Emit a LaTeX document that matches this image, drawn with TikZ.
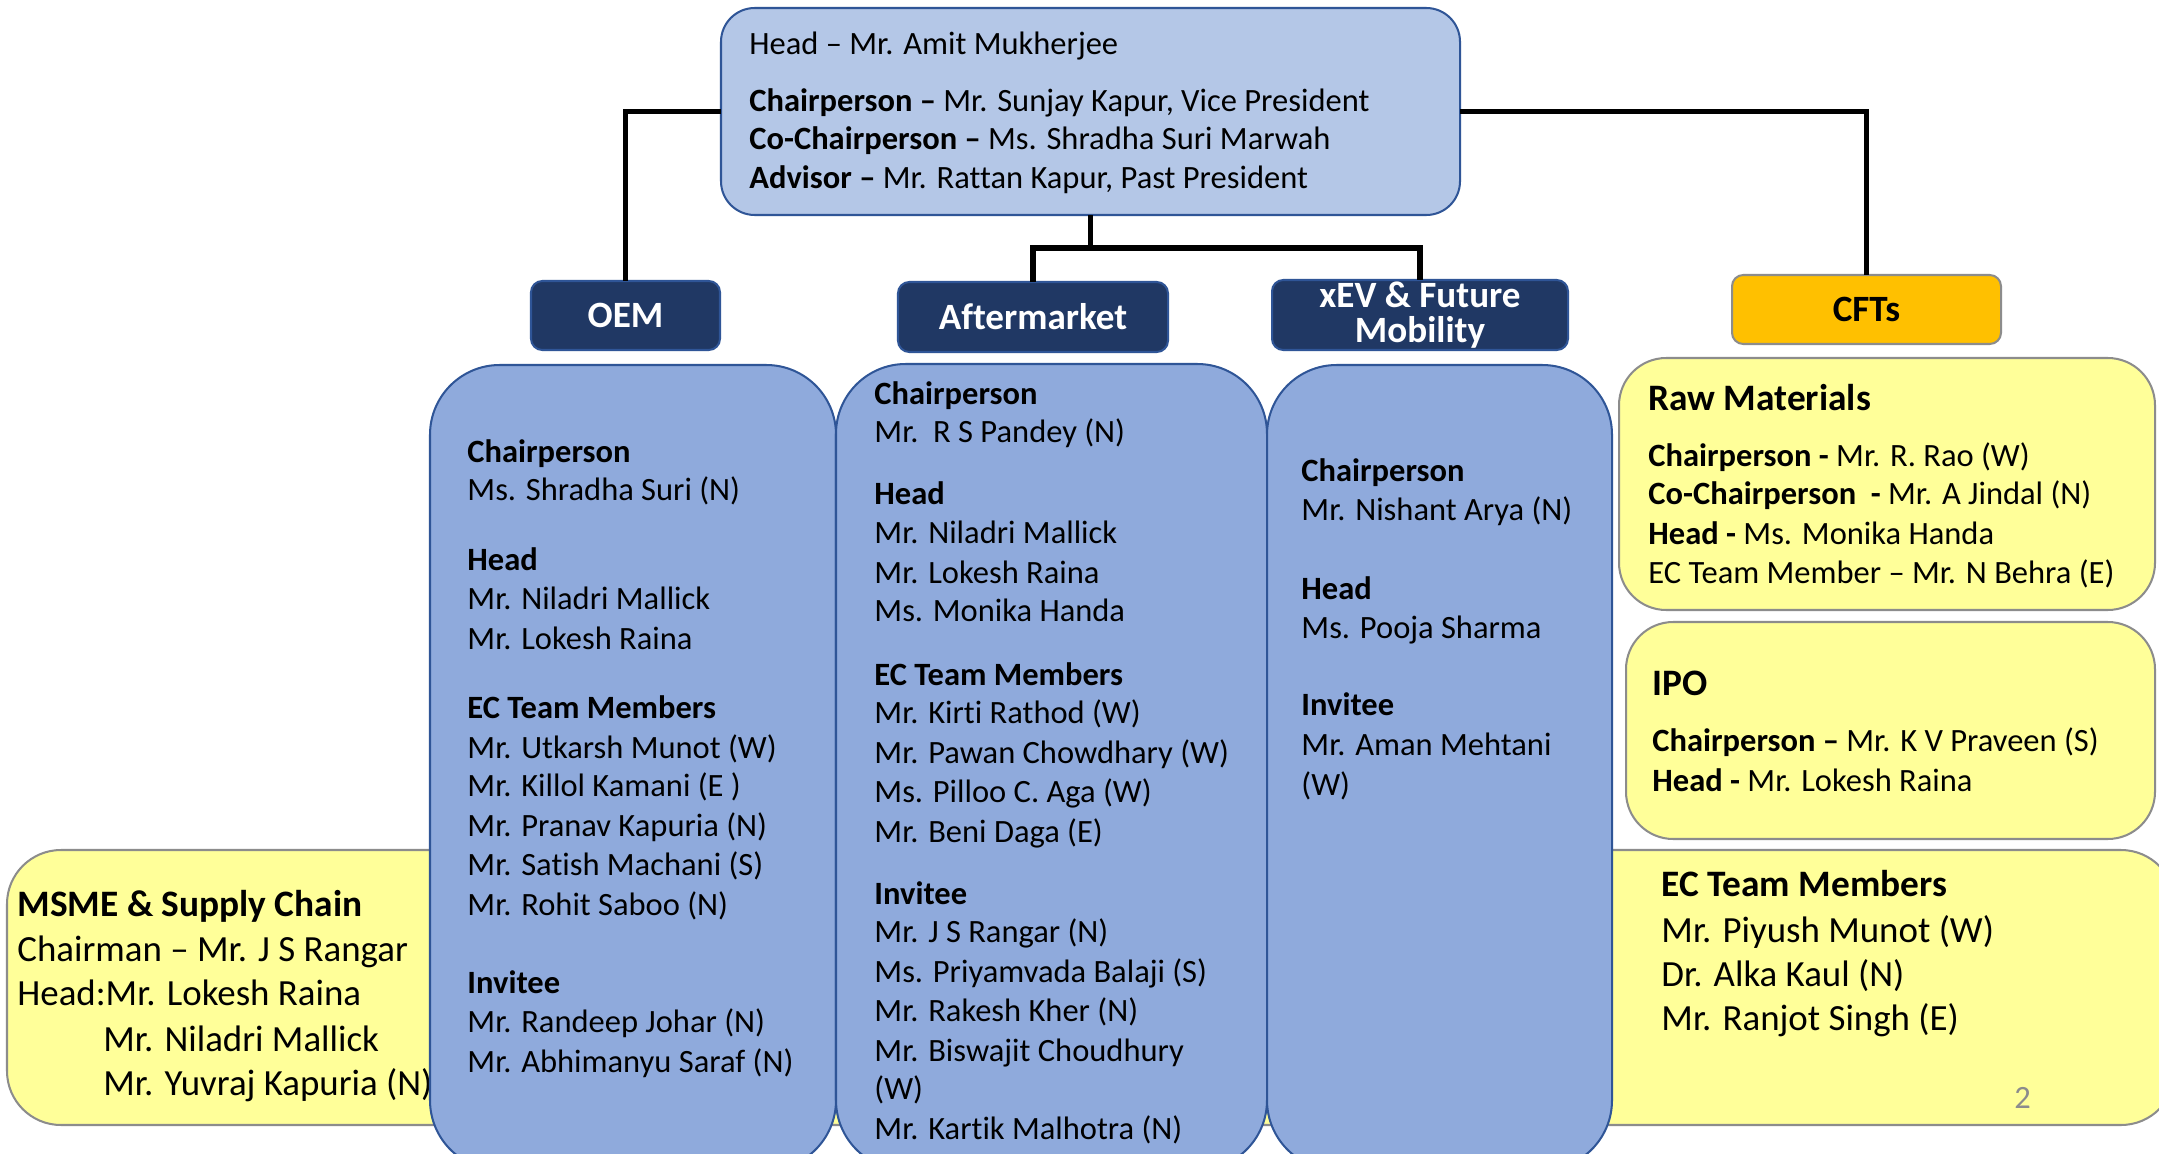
\documentclass[tikz,border=0pt]{standalone}
\usepackage{fontspec}
\setmainfont[Ligatures=NoCommon]{Carlito}
\definecolor{topfill}{HTML}{B4C7E7}
\definecolor{bord}{HTML}{2F5597}
\definecolor{navy}{HTML}{203864}
\definecolor{colfill}{HTML}{8FAADC}
\definecolor{gold}{HTML}{FFC000}
\definecolor{yel}{HTML}{FFFF99}
\definecolor{ygray}{HTML}{8C8C8C}
\def\pxu{0.4445pt}
\begin{document}
\begin{tikzpicture}[x=0.4445pt,y=-0.4445pt,
  box/.style={draw, inner sep=0pt, outer sep=0pt, line width=0.9pt},
  topbox/.style={box, fill=topfill, draw=bord, rounded corners=15pt},
  hdr/.style={box, fill=navy, draw=bord, rounded corners=5pt, text=white, align=center, font=\fontsize{16.5}{15.5}\selectfont\bfseries},
  cftbox/.style={box, fill=gold, draw=ygray, rounded corners=5pt, text=black, font=\fontsize{16.5}{16}\selectfont\bfseries},
  colbox/.style={box, fill=colfill, draw=bord, rounded corners=31pt},
  ybox/.style={box, fill=yel, draw=ygray, rounded corners=21pt},
  bigy/.style={box, fill=yel, draw=ygray, rounded corners=24pt},
  conn/.style={draw=black, line width=2.4pt},
  txt/.style={anchor=base west, inner sep=0pt, font=\fontsize{14.45}{17}\selectfont},
  ttl/.style={anchor=base west, inner sep=0pt, font=\fontsize{16.6}{19}\selectfont\bfseries},
  bigtxt/.style={anchor=base west, inner sep=0pt, font=\fontsize{16.4}{19}\selectfont},
  pnum/.style={anchor=base west, inner sep=0pt, text=ygray, font=\fontsize{14.45}{17}\selectfont}
]
\path[use as bounding box] (0,0) rectangle (2159,1154);
\clip (0,0) rectangle (2159,1154);
\fill[white] (0,0) rectangle (2159,1154);

% big yellow background box (MSME + EC team)
\node[bigy, minimum width=2168*\pxu, minimum height=275*\pxu] (ybig) at (1091,987.5) {};
% MSME text
\node[ttl] (ms1) at (17,916) {MSME \& Supply Chain};
\node[bigtxt] (ms2) at (17,961) {Chairman – Mr. J S Rangar};
\node[bigtxt] (ms3) at (17,1005) {Head:Mr. Lokesh Raina};
\node[bigtxt] (ms4) at (103,1051) {Mr. Niladri Mallick};
\node[bigtxt] (ms5) at (103,1095) {Mr. Yuvraj Kapuria (N)};
% EC team text
\node[ttl] (ec1) at (1661,896) {EC Team Members};
\node[bigtxt] (ec2) at (1661,942) {Mr. Piyush Munot (W)};
\node[bigtxt] (ec3) at (1661,986) {Dr. Alka Kaul (N)};
\node[bigtxt] (ec4) at (1661,1030) {Mr. Ranjot Singh (E)};
\node[pnum] (pg) at (2014,1108) {2};

% top box
\node[topbox, minimum width=739*\pxu, minimum height=207*\pxu] (top) at (1090.5,111.5) {};
\node[txt] (t1) at (749,55) {Head – Mr. Amit Mukherjee};
\node[txt] (t2) at (749,112) {\textbf{Chairperson –} Mr. Sunjay Kapur, Vice President};
\node[txt] (t3) at (749,150) {\textbf{Co-Chairperson –} Ms. Shradha Suri Marwah};
\node[txt] (t4) at (749,189) {\textbf{Advisor –} Mr. Rattan Kapur, Past President};

% headers
\node[hdr, minimum width=189*\pxu, minimum height=69*\pxu] (oem) at (625.5,315.5) {OEM};
\node[hdr, minimum width=270*\pxu, minimum height=70*\pxu] (am) at (1033,317) {Aftermarket};
\node[hdr, minimum width=296*\pxu, minimum height=70*\pxu] (xev) at (1420,315) {xEV \& Future\\Mobility};
\node[cftbox, minimum width=269*\pxu, minimum height=69*\pxu] (cft) at (1866.5,309.5) {CFTs};

% connectors
\coordinate (mj) at (1090.5,248);
\draw[conn] (top.west) -| (oem.north);
\draw[conn] (top.east) -| (cft.north);
\draw[conn] (top.south) -- (mj);
\draw[conn] (am.north) |- (mj) -| (xev.north);

% blue columns
\node[colbox, minimum width=406*\pxu, minimum height=805*\pxu] (coloem) at (633,767.5) {};
\node[colbox, minimum width=431*\pxu, minimum height=806*\pxu] (colam) at (1051.5,767) {};
\node[colbox, minimum width=345*\pxu, minimum height=805*\pxu] (colxev) at (1439.5,767.5) {};

% OEM column text
\node[txt] (o1) at (467,462) {\textbf{Chairperson}};
\node[txt] (o2) at (467,500) {Ms. Shradha Suri (N)};
\node[txt] (o3) at (467,570) {\textbf{Head}};
\node[txt] (o4) at (467,609) {Mr. Niladri Mallick};
\node[txt] (o5) at (467,649) {Mr. Lokesh Raina};
\node[txt] (o6) at (467,718) {\textbf{EC Team Members}};
\node[txt] (o7) at (467,758) {Mr. Utkarsh Munot (W)};
\node[txt] (o8) at (467,796) {Mr. Killol Kamani (E )};
\node[txt] (o9) at (467,836) {Mr. Pranav Kapuria (N)};
\node[txt] (o10) at (467,875) {Mr. Satish Machani (S)};
\node[txt] (o11) at (467,915) {Mr. Rohit Saboo (N)};
\node[txt] (o12) at (467,993) {\textbf{Invitee}};
\node[txt] (o13) at (467,1032) {Mr. Randeep Johar (N)};
\node[txt] (o14) at (467,1072) {Mr. Abhimanyu Saraf (N)};

% Aftermarket column text
\node[txt] (a1) at (874,404) {\textbf{Chairperson}};
\node[txt] (a2) at (874,442) {Mr.\ \ R S Pandey (N)};
\node[txt] (a3) at (874,504) {\textbf{Head}};
\node[txt] (a4) at (874,543) {Mr. Niladri Mallick};
\node[txt] (a5) at (874,583) {Mr. Lokesh Raina};
\node[txt] (a6) at (874,621) {Ms. Monika Handa};
\node[txt] (a7) at (874,685) {\textbf{EC Team Members}};
\node[txt] (a8) at (874,723) {Mr. Kirti Rathod (W)};
\node[txt] (a9) at (874,763) {Mr. Pawan Chowdhary (W)};
\node[txt] (a10) at (874,802) {Ms. Pilloo C. Aga (W)};
\node[txt] (a11) at (874,842) {Mr. Beni Daga (E)};
\node[txt] (a12) at (874,904) {\textbf{Invitee}};
\node[txt] (a13) at (874,942) {Mr. J S Rangar (N)};
\node[txt] (a14) at (874,982) {Ms. Priyamvada Balaji (S)};
\node[txt] (a15) at (874,1021) {Mr. Rakesh Kher (N)};
\node[txt] (a16) at (874,1061) {Mr. Biswajit Choudhury};
\node[txt] (a17) at (874,1099) {(W)};
\node[txt] (a18) at (874,1139) {Mr. Kartik Malhotra (N)};

% xEV column text
\node[txt] (x1) at (1301,481) {\textbf{Chairperson}};
\node[txt] (x2) at (1301,520) {Mr. Nishant Arya (N)};
\node[txt] (x3) at (1301,599) {\textbf{Head}};
\node[txt] (x4) at (1301,638) {Ms. Pooja Sharma};
\node[txt] (x5) at (1301,715) {\textbf{Invitee}};
\node[txt] (x6) at (1301,755) {Mr. Aman Mehtani};
\node[txt] (x7) at (1301,795) {(W)};

% Raw Materials box
\node[ybox, minimum width=536*\pxu, minimum height=252*\pxu] (raw) at (1887,484) {};
\node[ttl] (r0) at (1648,410) {Raw Materials};
\node[txt] (r1) at (1648,466) {\textbf{Chairperson -} Mr. R. Rao (W)};
\node[txt] (r2) at (1648,504) {\textbf{Co-Chairperson}\ \ \textbf{-} Mr. A Jindal (N)};
\node[txt] (r3) at (1648,544) {\textbf{Head -} Ms. Monika Handa};
\node[txt] (r4) at (1648,583) {EC Team Member – Mr. N Behra (E)};

% IPO box
\node[ybox, minimum width=529*\pxu, minimum height=217*\pxu] (ipo) at (1890.5,730.5) {};
\node[ttl] (i0) at (1652,695) {IPO};
\node[txt] (i1) at (1652,751) {\textbf{Chairperson –} Mr. K V Praveen (S)};
\node[txt] (i2) at (1652,791) {\textbf{Head -} Mr. Lokesh Raina};
\end{tikzpicture}
\end{document}
